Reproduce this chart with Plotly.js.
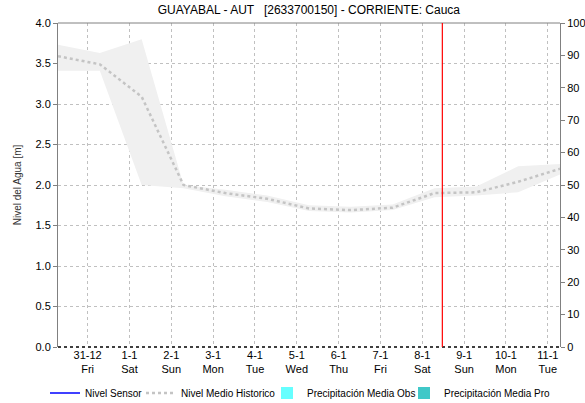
<!DOCTYPE html>
<html>
<head>
<meta charset="utf-8">
<script src="https://cdn.plot.ly/plotly-3.0.1.min.js"></script>
<style>html,body{margin:0;padding:0;background:#fff;}#chart{width:585px;height:403px;}</style>
</head>
<body>
<div id="chart"></div>
<script>
// Data (daily at 07:00)
var dates = ['2021-12-30 07:00','2021-12-31 07:00','2022-01-01 07:00','2022-01-02 07:00','2022-01-03 07:00','2022-01-04 07:00','2022-01-05 07:00','2022-01-06 07:00','2022-01-07 07:00','2022-01-08 07:00','2022-01-09 07:00','2022-01-10 07:00','2022-01-11 07:00'];
var meanHist = [3.59, 3.49, 3.09, 2.00, 1.90, 1.83, 1.71, 1.69, 1.72, 1.90, 1.91, 2.04, 2.20];
var bandLow  = [3.41, 3.41, 2.00, 1.96, 1.86, 1.79, 1.68, 1.66, 1.69, 1.85, 1.87, 1.91, 2.13];
var bandHigh = [3.73, 3.63, 3.80, 2.00, 1.94, 1.87, 1.75, 1.73, 1.76, 1.96, 1.98, 2.23, 2.26];
var sensorX = [];
var sensorY = [];
var precipObs = [];
var precipPro = [];
var nowMarker = '2022-01-08 11:30';
var tickDates = ['2021-12-31','2022-01-01','2022-01-02','2022-01-03','2022-01-04','2022-01-05','2022-01-06','2022-01-07','2022-01-08','2022-01-09','2022-01-10','2022-01-11'];
var tickLabels = ['31-12<br>Fri','1-1<br>Sat','2-1<br>Sun','3-1<br>Mon','4-1<br>Tue','5-1<br>Wed','6-1<br>Thu','7-1<br>Fri','8-1<br>Sat','9-1<br>Sun','10-1<br>Mon','11-1<br>Tue'];
var yTicks = [0,0.5,1,1.5,2,2.5,3,3.5,4];
var yLabels = ['0.0','0.5','1.0','1.5','2.0','2.5','3.0','3.5','4.0'];

var traces = [
  {x: dates, y: bandLow, type:'scatter', mode:'lines', line:{width:0, color:'rgba(0,0,0,0)'}, showlegend:false, hoverinfo:'skip'},
  {x: dates, y: bandHigh, type:'scatter', mode:'lines', fill:'tonexty', fillcolor:'rgb(240,240,240)', line:{width:0, color:'rgba(0,0,0,0)'}, showlegend:false, hoverinfo:'skip'},
  {x: sensorX.length ? sensorX : [dates[0]], y: sensorY.length ? sensorY : [null], type:'scatter', mode:'lines', name:'Nivel Sensor', line:{color:'#0000ff', width:1.5}, legend:'legend'},
  {x: dates, y: meanHist, type:'scatter', mode:'lines', name:'Nivel Medio Historico', line:{color:'#c4c4c4', width:2.5, dash:'dot'}, legend:'legend2'},
  {x: [dates[0]], y: precipObs.length ? precipObs : [null], type:'bar', name:'Precipitación Media Obs', yaxis:'y2', marker:{color:'#66ffff'}, legend:'legend3'},
  {x: [dates[0]], y: precipPro.length ? precipPro : [null], type:'bar', name:'Precipitación Media Pro', yaxis:'y2', marker:{color:'#40c8c8'}, legend:'legend4'}
];

var legendCommon = {orientation:'h', traceorder:'normal', xref:'container', yref:'container', y:0.025, yanchor:'middle', xanchor:'left', bgcolor:'rgba(0,0,0,0)', font:{size:10}, itemwidth:30, tracegroupgap:0};

var layout = {
  width:585, height:403,
  margin:{l:58, r:25, t:23, b:56},
  paper_bgcolor:'#fff', plot_bgcolor:'#fff',
  font:{family:'Liberation Sans, Arial, sans-serif', size:11, color:'#000'},
  title:{text:'GUAYABAL - AUT   [2633700150] - CORRIENTE: Cauca', font:{size:12, color:'#000'}, x:0.528, xanchor:'center', y:0.985, yanchor:'top'},
  xaxis:{type:'date', range:[dates[0], dates[dates.length-1]], tickmode:'array', tickvals:tickDates, ticktext:tickLabels,
         showgrid:true, gridcolor:'#c0c0c0', griddash:'dot', gridwidth:1, showline:false, zeroline:false, ticks:'', tickfont:{size:11}},
  yaxis:{range:[0,4], tickmode:'array', tickvals:yTicks, ticktext:yLabels, showgrid:true, gridcolor:'#c0c0c0', griddash:'dot',
         showline:true, linecolor:'#808080', linewidth:1, ticks:'outside', ticklen:4, tickcolor:'#808080', zeroline:false,
         title:{text:'Nivel del Agua [m]', font:{size:10, color:'#333'}, standoff:12}},
  yaxis2:{range:[0,100], dtick:10, overlaying:'y', side:'right', showgrid:false, showline:true, linecolor:'#808080', linewidth:1,
          ticks:'outside', ticklen:4, tickcolor:'#808080', zeroline:false},
  legend:Object.assign({}, legendCommon, {x:45/585}),
  legend2:Object.assign({}, legendCommon, {x:141/585}),
  legend3:Object.assign({}, legendCommon, {x:267/585}),
  legend4:Object.assign({}, legendCommon, {x:404/585}),
  bargap:0.2,
  showlegend:true,
  shapes:[
    {type:'line', xref:'paper', yref:'paper', x0:0, x1:1, y0:1, y1:1, line:{color:'#808080', width:1}},
    {type:'line', xref:'paper', yref:'paper', x0:0, x1:1, y0:0, y1:0, line:{color:'#000', width:1.5, dash:'dot'}},
    {type:'line', xref:'x', yref:'paper', x0:nowMarker, x1:nowMarker, y0:0, y1:1, line:{color:'#ff0000', width:1.2}}
  ]
};

Plotly.newPlot('chart', traces, layout, {displayModeBar:false, staticPlot:true});
</script>
</body>
</html>
